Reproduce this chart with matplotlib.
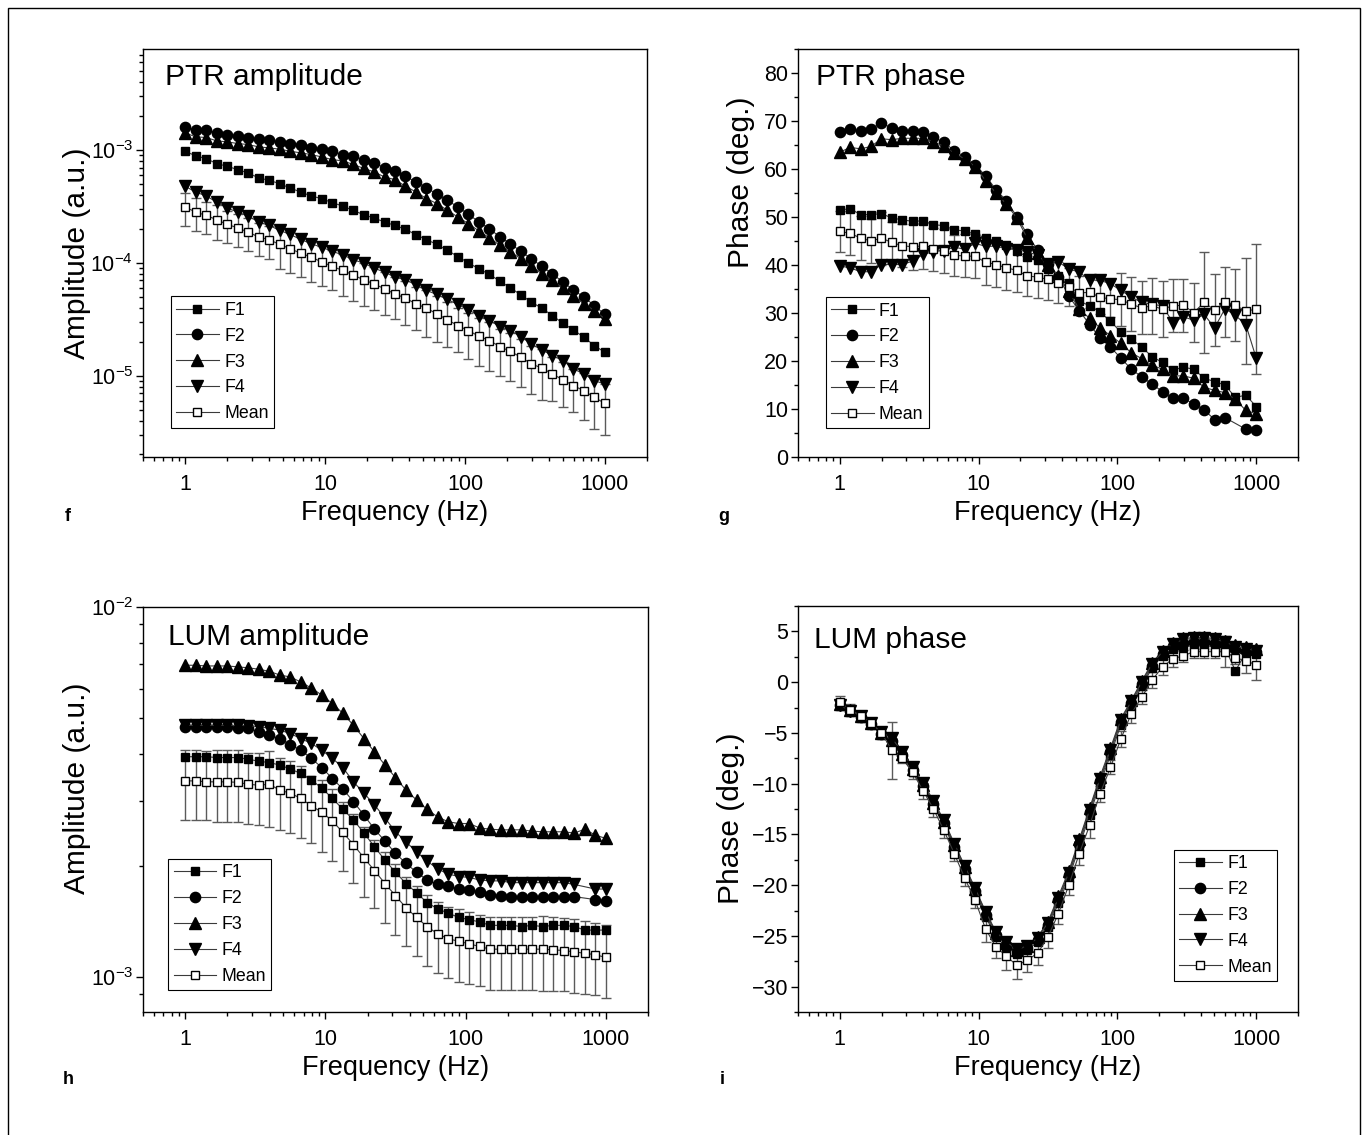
import numpy as np
import matplotlib
matplotlib.use("Agg")
import matplotlib.pyplot as plt
from matplotlib.ticker import LogLocator, NullFormatter, FixedLocator, MultipleLocator, FixedFormatter
from matplotlib.patches import Rectangle

plt.rcParams['font.family'] = ['Liberation Sans', 'DejaVu Sans']
plt.rcParams['mathtext.fontset'] = 'custom'
plt.rcParams['mathtext.rm'] = 'Liberation Sans'
plt.rcParams['mathtext.it'] = 'Liberation Sans:italic'
plt.rcParams['mathtext.bf'] = 'Liberation Sans:bold'

nan = np.nan

# ---------------- data ----------------
freq = [1.0, 1.189, 1.413, 1.679, 1.995, 2.371, 2.818, 3.350, 3.981, 4.732,
        5.623, 6.683, 7.943, 9.441, 11.22, 13.34, 15.85, 18.84, 22.39, 26.61,
        31.62, 37.58, 44.67, 53.09, 63.10, 74.99, 89.13, 105.9, 125.9, 149.6,
        177.8, 211.3, 251.2, 298.5, 354.8, 421.7, 501.2, 595.7, 707.9, 841.4, 1000.0]

series_names = ['F1', 'F2', 'F3', 'F4', 'Mean']
x_ticks = [1, 10, 100, 1000]
x_tick_labels = ['1', '10', '100', '1000']

# PTR amplitude (a.u.)
ptr_amp_F1 = [9.8e-4, 8.91e-4, 8.43e-4, 7.61e-4, 7.21e-4, 6.73e-4, 6.29e-4, 5.68e-4, 5.41e-4, 5.05e-4,
              4.62e-4, 4.26e-4, 3.93e-4, 3.72e-4, 3.43e-4, 3.20e-4, 2.93e-4, 2.68e-4, 2.50e-4, 2.31e-4,
              2.15e-4, 1.99e-4, 1.78e-4, 1.61e-4, 1.46e-4, 1.29e-4, 1.14e-4, 1.00e-4, 8.87e-5, 7.91e-5,
              6.89e-5, 6.01e-5, 5.21e-5, 4.49e-5, 3.97e-5, 3.41e-5, 2.92e-5, 2.55e-5, 2.19e-5, 1.85e-5, 1.61e-5]
ptr_amp_F2 = [1.59e-3, 1.505e-3, 1.505e-3, 1.426e-3, 1.378e-3, 1.34e-3, 1.287e-3, 1.252e-3, 1.227e-3, 1.186e-3,
              1.146e-3, 1.123e-3, 1.056e-3, 1.021e-3, 9.8e-4, 9.15e-4, 8.84e-4, 8.26e-4, 7.72e-4, 7.01e-4,
              6.51e-4, 5.87e-4, 5.23e-4, 4.66e-4, 4.06e-4, 3.59e-4, 3.13e-4, 2.70e-4, 2.31e-4, 2.01e-4,
              1.70e-4, 1.48e-4, 1.265e-4, 1.09e-4, 9.31e-5, 8.01e-5, 6.76e-5, 5.77e-5, 4.97e-5, 4.19e-5, 3.49e-5]
ptr_amp_F3 = [1.426e-3, 1.314e-3, 1.296e-3, 1.21e-3, 1.186e-3, 1.146e-3, 1.123e-3, 1.07e-3, 1.049e-3, 1.021e-3,
              9.8e-4, 9.47e-4, 9.15e-4, 8.72e-4, 8.26e-4, 8.04e-4, 7.5e-4, 6.9e-4, 6.42e-4, 5.79e-4,
              5.48e-4, 4.79e-4, 4.26e-4, 3.72e-4, 3.36e-4, 2.93e-4, 2.55e-4, 2.23e-4, 1.92e-4, 1.67e-4,
              1.43e-4, 1.25e-4, 1.09e-4, 9.31e-5, 8.01e-5, 6.99e-5, 6.01e-5, 5.14e-5, 4.34e-5, 3.78e-5, 3.19e-5]
ptr_amp_F4 = [4.79e-4, 4.26e-4, 3.93e-4, 3.47e-4, 3.07e-4, 2.83e-4, 2.61e-4, 2.31e-4, 2.15e-4, 1.95e-4,
              1.79e-4, 1.62e-4, 1.48e-4, 1.38e-4, 1.27e-4, 1.18e-4, 1.07e-4, 9.97e-5, 9.0e-5, 8.29e-5,
              7.48e-5, 7.08e-5, 6.39e-5, 5.70e-5, 5.25e-5, 4.74e-5, 4.28e-5, 3.84e-5, 3.41e-5, 3.08e-5,
              2.73e-5, 2.51e-5, 2.22e-5, 1.91e-5, 1.69e-5, 1.51e-5, 1.36e-5, 1.15e-5, 1.035e-5, 9.03e-6, 8.43e-6]
ptr_amp_mean = [3.13e-4, 2.83e-4, 2.64e-4, 2.42e-4, 2.20e-4, 2.05e-4, 1.88e-4, 1.70e-4, 1.61e-4, 1.46e-4,
                1.34e-4, 1.22e-4, 1.13e-4, 1.02e-4, 9.37e-5, 8.57e-5, 7.85e-5, 7.08e-5, 6.53e-5, 5.89e-5,
                5.32e-5, 4.87e-5, 4.34e-5, 3.97e-5, 3.53e-5, 3.13e-5, 2.78e-5, 2.51e-5, 2.24e-5, 2.05e-5,
                1.81e-5, 1.64e-5, 1.46e-5, 1.27e-5, 1.17e-5, 1.035e-5, 9.2e-6, 8.15e-6, 7.36e-6, 6.42e-6, 5.68e-6]
ptr_amp_sd = [1.02e-4, 9.25e-5, 8.5e-5, 8.13e-5, 7.0e-5, 6.7e-5, 6.05e-5, 5.56e-5, 5.31e-5, 5.72e-5,
              5.25e-5, 4.73e-5, 4.52e-5, 4.0e-5, 3.67e-5, 3.43e-5, 3.22e-5, 2.9e-5, 2.7e-5, 2.41e-5,
              2.13e-5, 2.08e-5, 1.82e-5, 1.78e-5, 1.55e-5, 1.34e-5, 1.17e-5, 1.10e-5, 1.01e-5, 9.4e-6,
              8.1e-6, 7.5e-6, 6.7e-6, 5.8e-6, 5.6e-6, 4.35e-6, 3.9e-6, 3.4e-6, 3.3e-6, 3.07e-6, 2.7e-6]

# PTR phase (deg.)
ptr_ph_F1 = [51.5, 51.7, 50.5, 50.5, 50.7, 49.8, 49.4, 49.1, 49.2, 48.4, 48.2, 47.3, 47.1, 46.4, 45.7,
             44.9, 44.1, 42.9, 41.7, 41.0, 39.2, 37.8, 36.3, 32.5, 31.5, 30.2, 28.3, 26.0, 24.6, 22.9,
             20.9, 19.7, 18.1, 18.7, 18.3, 16.4, 15.7, 15.0, 12.4, 12.9, 10.5]
ptr_ph_F2 = [67.7, 68.4, 67.9, 68.4, 69.5, 68.6, 68.0, 67.9, 67.7, 66.6, 65.6, 63.8, 62.6, 60.9, 58.6,
             55.7, 53.4, 50.1, 46.4, 43.1, 40.3, 37.6, 33.5, 30.5, 27.6, 24.8, 22.9, 20.6, 18.3, 16.7,
             15.2, 13.6, 12.2, 12.2, 11.1, 9.8, 7.8, 8.2, nan, 5.8, 5.7]
ptr_ph_F3 = [63.5, 64.5, 64.2, 64.7, 66.3, 66.1, 66.4, 66.4, 66.4, 65.7, 64.7, 63.3, 62.1, 60.5, 57.6,
             55.0, 52.7, 49.8, 45.6, 42.4, 40.0, 37.8, 34.5, 30.8, 28.9, 26.9, 25.3, 23.7, 21.7, 20.5,
             19.1, 18.3, 16.9, 16.9, 16.4, 14.5, 13.9, 13.4, 12.0, 9.7, 9.0]
ptr_ph_F4 = [39.8, 39.4, 38.6, 38.6, 40.1, 40.1, 40.1, 40.8, 42.2, 42.8, 43.0, 43.7, 43.3, 44.5, 43.9,
             43.9, 43.4, 43.2, 42.8, 42.0, 40.2, 40.6, 39.2, 38.5, 36.9, 36.8, 36.1, 34.7, 33.3, 32.2,
             31.8, 31.5, 28.0, 29.2, 28.5, 29.7, 26.9, 30.9, 29.5, 27.6, 20.6]
ptr_ph_mean = [47.0, 46.6, 45.6, 45.0, 45.6, 44.7, 44.0, 43.8, 44.0, 43.3, 42.9, 42.0, 41.9, 41.8, 40.6,
               40.1, 39.4, 38.9, 37.7, 37.5, 37.0, 36.3, 35.4, 34.2, 34.3, 33.3, 32.9, 32.8, 31.8, 31.1,
               31.5, 30.8, 31.5, 31.6, 30.1, 32.2, 30.6, 32.3, 31.6, 30.4, 30.8]
ptr_ph_sd = [4.2, 4.6, 4.6, 4.5, 5.5, 4.3, 4.5, 4.8, 4.8, 4.5, 4.5, 4.2, 4.5, 4.6, 4.7,
             4.6, 4.6, 4.6, 4.2, 4.3, 4.2, 4.3, 4.0, 3.6, 3.2, 3.5, 3.8, 5.5, 5.6, 5.5,
             5.8, 5.8, 5.5, 5.5, 6.2, 10.5, 7.5, 7.2, 7.5, 11.0, 13.6]

# LUM amplitude (a.u.)
lum_amp_F1 = [3.94e-3, 3.94e-3, 3.94e-3, 3.92e-3, 3.92e-3, 3.92e-3, 3.88e-3, 3.83e-3, 3.80e-3, 3.74e-3,
              3.65e-3, 3.55e-3, 3.41e-3, 3.24e-3, 3.04e-3, 2.84e-3, 2.66e-3, 2.45e-3, 2.25e-3, 2.07e-3,
              1.92e-3, 1.79e-3, 1.69e-3, 1.59e-3, 1.53e-3, 1.49e-3, 1.45e-3, 1.43e-3, 1.41e-3, 1.38e-3,
              1.38e-3, 1.38e-3, 1.37e-3, 1.38e-3, 1.37e-3, 1.38e-3, 1.38e-3, 1.37e-3, 1.34e-3, 1.34e-3, 1.34e-3]
lum_amp_F2 = [4.75e-3, 4.75e-3, 4.75e-3, 4.75e-3, 4.75e-3, 4.72e-3, 4.70e-3, 4.60e-3, 4.51e-3, 4.40e-3,
              4.25e-3, 4.10e-3, 3.90e-3, 3.68e-3, 3.44e-3, 3.22e-3, 2.98e-3, 2.74e-3, 2.51e-3, 2.33e-3,
              2.16e-3, 2.03e-3, 1.92e-3, 1.83e-3, 1.78e-3, 1.76e-3, 1.73e-3, 1.72e-3, 1.70e-3, 1.67e-3,
              1.66e-3, 1.65e-3, 1.65e-3, 1.65e-3, 1.65e-3, 1.65e-3, 1.65e-3, 1.65e-3, nan, 1.62e-3, 1.61e-3]
lum_amp_F3 = [6.96e-3, 6.96e-3, 6.93e-3, 6.93e-3, 6.93e-3, 6.89e-3, 6.85e-3, 6.79e-3, 6.70e-3, 6.55e-3,
              6.47e-3, 6.27e-3, 6.04e-3, 5.78e-3, 5.48e-3, 5.16e-3, 4.79e-3, 4.41e-3, 4.06e-3, 3.74e-3,
              3.46e-3, 3.20e-3, 3.01e-3, 2.84e-3, 2.71e-3, 2.63e-3, 2.60e-3, 2.60e-3, 2.53e-3, 2.51e-3,
              2.50e-3, 2.50e-3, 2.50e-3, 2.48e-3, 2.47e-3, 2.47e-3, 2.47e-3, 2.45e-3, 2.51e-3, 2.42e-3, 2.37e-3]
lum_amp_F4 = [4.79e-3, 4.79e-3, 4.79e-3, 4.79e-3, 4.79e-3, 4.79e-3, 4.78e-3, 4.75e-3, 4.70e-3, 4.65e-3,
              4.55e-3, 4.41e-3, 4.28e-3, 4.10e-3, 3.90e-3, 3.68e-3, 3.37e-3, 3.14e-3, 2.92e-3, 2.69e-3,
              2.47e-3, 2.32e-3, 2.18e-3, 2.06e-3, 1.96e-3, 1.90e-3, 1.87e-3, 1.86e-3, 1.83e-3, 1.82e-3,
              1.82e-3, 1.80e-3, 1.80e-3, 1.80e-3, 1.80e-3, 1.80e-3, 1.80e-3, 1.78e-3, nan, 1.73e-3, 1.73e-3]
lum_amp_mean = [3.39e-3, 3.39e-3, 3.37e-3, 3.37e-3, 3.37e-3, 3.36e-3, 3.32e-3, 3.30e-3, 3.32e-3, 3.20e-3,
                3.14e-3, 3.04e-3, 2.90e-3, 2.79e-3, 2.64e-3, 2.46e-3, 2.28e-3, 2.10e-3, 1.94e-3, 1.79e-3,
                1.66e-3, 1.54e-3, 1.45e-3, 1.37e-3, 1.31e-3, 1.27e-3, 1.25e-3, 1.23e-3, 1.21e-3, 1.19e-3,
                1.19e-3, 1.19e-3, 1.19e-3, 1.19e-3, 1.19e-3, 1.185e-3, 1.18e-3, 1.17e-3, 1.16e-3, 1.15e-3, 1.13e-3]
lum_amp_sd = [0.73e-3, 0.73e-3, 0.71e-3, 0.74e-3, 0.74e-3, 0.74e-3, 0.72e-3, 0.72e-3, 0.77e-3, 0.70e-3,
              0.69e-3, 0.67e-3, 0.60e-3, 0.61e-3, 0.58e-3, 0.52e-3, 0.48e-3, 0.45e-3, 0.405e-3, 0.39e-3,
              0.36e-3, 0.33e-3, 0.31e-3, 0.30e-3, 0.285e-3, 0.276e-3, 0.277e-3, 0.273e-3, 0.266e-3, 0.266e-3,
              0.266e-3, 0.266e-3, 0.266e-3, 0.266e-3, 0.271e-3, 0.266e-3, 0.265e-3, 0.265e-3, 0.26e-3, 0.254e-3, 0.252e-3]

# LUM phase (deg.)
lum_ph_F1 = [-2.4, -2.9, -3.5, -4.2, -5.2, -5.9, -7.4, -8.9, -10.4, -12.2, -14.1, -16.4, -18.6, -20.8,
             -23.1, -25.1, -26.1, -26.8, -26.4, -25.6, -24.1, -21.8, -19.3, -16.2, -13.1, -10.0, -7.2,
             -4.2, -2.4, -0.4, 1.4, 2.6, 3.3, 3.5, 3.6, 3.6, 3.5, 3.4, 1.1, 2.9, 2.8]
lum_ph_F2 = [-2.3, -2.8, -3.4, -4.1, -5.1, -5.8, -7.2, -8.7, -10.2, -12.0, -13.9, -16.2, -18.4, -20.6,
             -22.9, -24.9, -25.9, -26.6, -26.2, -25.4, -23.9, -21.5, -19.0, -15.9, -12.8, -9.7, -6.9,
             -3.9, -2.1, -0.2, 1.6, 2.8, 3.6, 3.9, 4.0, 4.0, 3.9, 3.8, 3.3, 3.1, 3.0]
lum_ph_F3 = [-2.2, -2.7, -3.3, -4.0, -5.0, -5.7, -7.1, -8.6, -10.1, -11.9, -13.8, -16.0, -18.2, -20.4,
             -22.7, -24.7, -25.7, -26.4, -26.0, -25.1, -23.6, -21.1, -18.6, -15.5, -12.4, -9.3, -6.5,
             -3.6, -1.8, 0.1, 1.9, 3.1, 3.9, 4.3, 4.4, 4.4, 4.3, 4.1, 3.7, 3.5, 3.3]
lum_ph_F4 = [-2.3, -2.8, -3.3, -4.0, -4.9, -5.5, -6.9, -8.4, -9.9, -11.7, -13.6, -15.9, -18.1, -20.3,
             -22.6, -24.6, -25.6, -26.3, -26.0, -25.2, -23.7, -21.3, -18.8, -15.7, -12.6, -9.5, -6.7,
             -3.7, -1.9, 0.0, 1.8, 3.0, 3.8, 4.2, 4.3, 4.3, 4.2, 4.0, 3.5, 3.3, 3.1]
lum_ph_mean = [-2.0, -2.7, -3.3, -4.0, -5.0, -6.7, -7.5, -8.9, -10.7, -12.5, -14.6, -16.9, -19.3, -21.5,
               -24.3, -26.1, -27.0, -27.9, -27.4, -26.7, -25.1, -22.8, -20.0, -16.9, -14.1, -11.0, -8.4,
               -5.6, -3.1, -1.5, 0.2, 1.5, 2.3, 2.6, 3.0, 3.0, 3.0, 3.0, 2.4, 2.1, 1.7]
lum_ph_sd = [0.6, 0.5, 0.5, 0.4, 0.4, 2.8, 0.5, 0.6, 0.8, 0.8, 0.8, 0.7, 0.8, 0.8, 1.3, 1.1, 1.4, 1.3,
             1.2, 1.2, 1.1, 1.0, 1.0, 1.1, 1.3, 0.8, 0.7, 0.8, 0.9, 0.7, 0.75, 0.75, 0.8, 0.6, 0.6,
             0.6, 0.6, 1.5, 0.6, 1.2, 1.5]

# ---------------- figure ----------------
W, H = 1366, 1135
fig = plt.figure(figsize=(W / 100, H / 100), dpi=100)


def px_axes(x0, y0, x1, y1):
    return fig.add_axes([x0 / W, 1 - y1 / H, (x1 - x0) / W, (y1 - y0) / H])


ax_f = px_axes(143, 49, 647, 457)
ax_g = px_axes(798, 49, 1298, 457)
ax_h = px_axes(143, 607, 648, 1012)
ax_i = px_axes(798, 606, 1298, 1012)

markers = {'F1': dict(marker='s', ms=6.3, mfc='black', mec='black'),
           'F2': dict(marker='o', ms=7.4, mfc='black', mec='black'),
           'F3': dict(marker='^', ms=8.2, mfc='black', mec='black'),
           'F4': dict(marker='v', ms=8.2, mfc='black', mec='black'),
           'Mean': dict(marker='s', ms=6.3, mfc='white', mec='black', mew=1.0)}
line_col = '#3a3a3a'
err_col = '#5a5a5a'


def draw(ax, ys, mean, sd, title, title_pos, ylabel, ylabel_pos, leg_loc, leg_anchor, logy):
    x = np.array(freq)
    m = np.array(mean)
    ax.errorbar(x, m, yerr=np.array(sd), fmt='none', ecolor=err_col, elinewidth=1.0,
                capsize=3.6, capthick=1.0, zorder=2)
    for name, y in zip(series_names[:4], ys):
        y = np.array(y, dtype=float)
        ok = np.isfinite(y)
        ax.plot(x[ok], y[ok], color=line_col, lw=0.8, label=name, zorder=3, **markers[name])
    ax.plot(x, m, color=line_col, lw=0.8, label='Mean', zorder=4, **markers['Mean'])

    ax.set_xscale('log')
    ax.set_xlim(0.5, 2000)
    ax.xaxis.set_major_locator(FixedLocator(x_ticks))
    ax.xaxis.set_major_formatter(FixedFormatter(x_tick_labels))
    ax.xaxis.set_minor_locator(LogLocator(base=10, subs=np.arange(2, 10), numticks=20))
    ax.xaxis.set_minor_formatter(NullFormatter())
    if logy:
        ax.set_yscale('log')
        ax.yaxis.set_major_locator(LogLocator(base=10, numticks=20))
        ax.yaxis.set_minor_locator(LogLocator(base=10, subs=np.arange(2, 10), numticks=20))
        ax.yaxis.set_minor_formatter(NullFormatter())

    for s in ax.spines.values():
        s.set_linewidth(1.0)
    ax.tick_params(which='both', direction='out', top=False, right=False, width=1.0)
    ax.tick_params(which='major', length=5, labelsize=15.5)
    ax.tick_params(which='minor', length=3)
    ax.tick_params(axis='x', which='major', pad=7)
    ax.tick_params(axis='y', which='major', pad=2)

    ax.set_xlabel('Frequency (Hz)', fontsize=19.5, labelpad=4)
    ax.set_ylabel(ylabel, fontsize=21.5)
    ax.yaxis.set_label_coords(*ylabel_pos)
    ax.text(title_pos[0], title_pos[1], title, transform=ax.transAxes, fontsize=21.5,
            ha='left', va='baseline')

    leg = ax.legend(loc=leg_loc, bbox_to_anchor=leg_anchor, borderaxespad=0, fontsize=12.8,
                    frameon=True, fancybox=False, framealpha=1, edgecolor='black',
                    handlelength=2.4, handletextpad=0.3, labelspacing=0.5, borderpad=0.3)
    leg.get_frame().set_linewidth(0.8)
    leg.set_zorder(10)


draw(ax_f, [ptr_amp_F1, ptr_amp_F2, ptr_amp_F3, ptr_amp_F4], ptr_amp_mean, ptr_amp_sd,
     'PTR amplitude', (0.043, 0.911), 'Amplitude (a.u.)', (-0.103, 0.5),
     'lower left', (0.055, 0.072), True)
ax_f.set_ylim(1.9e-6, 7.9e-3)

draw(ax_g, [ptr_ph_F1, ptr_ph_F2, ptr_ph_F3, ptr_ph_F4], ptr_ph_mean, ptr_ph_sd,
     'PTR phase', (0.035, 0.911), 'Phase (deg.)', (-0.086, 0.674),
     'lower left', (0.055, 0.070), False)
ax_g.set_ylim(0, 85)
ax_g.yaxis.set_major_locator(MultipleLocator(10))
ax_g.yaxis.set_minor_locator(MultipleLocator(5))

draw(ax_h, [lum_amp_F1, lum_amp_F2, lum_amp_F3, lum_amp_F4], lum_amp_mean, lum_amp_sd,
     'LUM amplitude', (0.05, 0.905), 'Amplitude (a.u.)', (-0.103, 0.552),
     'lower left', (0.05, 0.054), True)
ax_h.set_ylim(8.05e-4, 1e-2)

draw(ax_i, [lum_ph_F1, lum_ph_F2, lum_ph_F3, lum_ph_F4], lum_ph_mean, lum_ph_sd,
     'LUM phase', (0.033, 0.897), 'Phase (deg.)', (-0.106, 0.476),
     'lower right', (0.958, 0.0765), False)
ax_i.set_ylim(-32.5, 7.5)
ax_i.yaxis.set_major_locator(MultipleLocator(5))
ax_i.yaxis.set_minor_locator(MultipleLocator(2.5))

# panel letters
for lab, (px, py) in {'f': (68, 517), 'g': (724, 517), 'h': (68, 1080), 'i': (722, 1080)}.items():
    fig.text(px / W, 1 - py / H, lab, fontsize=13, fontweight='bold', ha='center', va='center')

# outer frame
fig.add_artist(Rectangle((8 / W, -0.02), (1360 - 8) / W, 1.02 - 8 / H, transform=fig.transFigure,
                         fill=False, edgecolor='black', lw=1.0))

fig.savefig('out.png', dpi=100, facecolor='white')
